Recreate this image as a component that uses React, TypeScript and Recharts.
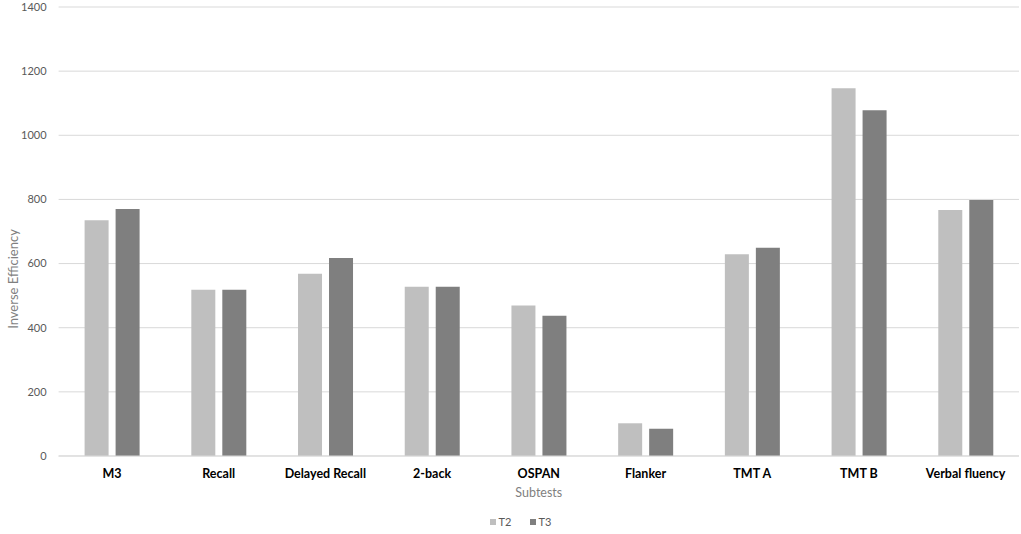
import React from 'react';
import { BarChart, Bar, XAxis, YAxis, CartesianGrid, Legend } from 'recharts';

const categories = ['M3', 'Recall', 'Delayed Recall', '2-back', 'OSPAN', 'Flanker', 'TMT A', 'TMT B', 'Verbal fluency'];
const t2Values = [735, 518, 568, 528, 469, 102, 629, 1147, 767];
const t3Values = [770, 518, 617, 528, 437, 85, 649, 1078, 798];
const yTicks = [0, 200, 400, 600, 800, 1000, 1200, 1400];

const data = categories.map((name, i) => ({ name, T2: t2Values[i], T3: t3Values[i] }));

const FONT = 'Lato, "Open Sans", sans-serif';

const renderLegend = () => (
  <div style={{ display: 'flex', justifyContent: 'center', fontFamily: FONT, fontSize: 11, color: '#595959', paddingLeft: 20 }}>
    <span style={{ display: 'inline-flex', alignItems: 'center', marginRight: 18 }}>
      <span style={{ width: 6, height: 6, background: '#bfbfbf', display: 'inline-block', marginRight: 3 }} />
      T2
    </span>
    <span style={{ display: 'inline-flex', alignItems: 'center' }}>
      <span style={{ width: 6, height: 6, background: '#7f7f7f', display: 'inline-block', marginRight: 3 }} />
      T3
    </span>
  </div>
);

export default function App() {
  return (
    <div style={{ position: 'absolute', left: 0, top: 0, width: 1021, height: 534, background: '#fff' }}>
      <BarChart
        width={1021}
        height={534}
        data={data}
        margin={{ top: 7, right: 2, bottom: 0, left: 0 }}
        barSize={24}
        barGap={7}
      >
        <CartesianGrid vertical={false} stroke="#d9d9d9" strokeWidth={1} />
        <XAxis
          dataKey="name"
          height={78}
          tickLine={false}
          axisLine={{ stroke: '#d9d9d9' }}
          tickSize={0}
          tickMargin={13}
          interval={0}
          tick={{ fill: '#000', fontSize: 12.5, fontWeight: 700, fontFamily: FONT }}
          label={{
            content: (props: any) => {
              const vb = props.viewBox;
              return (
                <text
                  x={vb.x + vb.width / 2}
                  y={vb.y + 41}
                  textAnchor="middle"
                  fill="#7f7f7f"
                  fontSize={12.5}
                  fontFamily={FONT}
                >
                  Subtests
                </text>
              );
            },
          }}
        />
        <YAxis
          width={58.6}
          domain={[0, 1400]}
          ticks={yTicks}
          tickLine={false}
          axisLine={false}
          tickSize={0}
          tickMargin={12}
          tick={{ fill: '#595959', fontSize: 11, fontFamily: FONT }}
          label={{
            content: () => (
              <text
                x={0}
                y={0}
                transform="translate(18, 279) rotate(-90)"
                textAnchor="middle"
                fill="#7f7f7f"
                fontSize={13}
                fontFamily={FONT}
              >
                Inverse Efficiency
              </text>
            ),
          }}
        />
        <Legend
          layout="horizontal"
          verticalAlign="middle"
          align="center"
          content={renderLegend}
          wrapperStyle={{ top: 515, left: 0, width: 1021 }}
        />
        <Bar dataKey="T2" fill="#bfbfbf" isAnimationActive={false} />
        <Bar dataKey="T3" fill="#7f7f7f" isAnimationActive={false} />
      </BarChart>
    </div>
  );
}
